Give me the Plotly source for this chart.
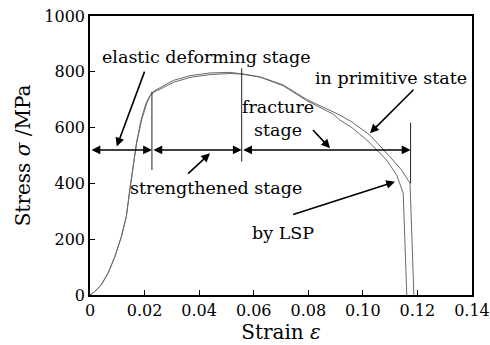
import plotly.graph_objects as go

# ---- data ----
strain_primitive = [0, 0.0017, 0.0041, 0.0066, 0.0091, 0.0115, 0.0133, 0.0147, 0.0171, 0.0189,
                    0.0208, 0.0222, 0.0234, 0.0259, 0.0305, 0.0366, 0.0440, 0.0513, 0.0556,
                    0.0623, 0.0708, 0.0794, 0.0892, 0.0916, 0.0960, 0.1026, 0.1099, 0.1142,
                    0.1173, 0.1185, 0.1187]
stress_primitive = [0, 12, 36, 78, 137, 209, 281, 388, 544, 627,
                    687, 717, 731, 745, 769, 786, 796, 798, 793,
                    782, 753, 701, 654, 645, 620, 573, 496, 448,
                    400, 6, 0]

strain_lsp = [0, 0.0017, 0.0041, 0.0066, 0.0091, 0.0115, 0.0133, 0.0147, 0.0170, 0.0187,
              0.0205, 0.0219, 0.0232, 0.0257, 0.0305, 0.0366, 0.0440, 0.0513, 0.0556,
              0.0623, 0.0708, 0.0794, 0.0892, 0.0916, 0.0960, 0.1014, 0.1087, 0.1124,
              0.1142, 0.1148, 0.1161]
stress_lsp = [0, 12, 36, 78, 137, 209, 281, 388, 544, 627,
              687, 714, 726, 738, 762, 780, 790, 794, 792,
              781, 750, 697, 648, 627, 600, 556, 484, 430,
              382, 365, 0]

x_ticks = [0, 0.02, 0.04, 0.06, 0.08, 0.10, 0.12, 0.14]
x_tick_labels = ["0", "0.02", "0.04", "0.06", "0.08", "0.10", "0.12", "0.14"]
y_ticks = [0, 200, 400, 600, 800, 1000]
y_tick_labels = ["0", "200", "400", "600", "800", "1000"]

# stage boundaries (strain) and marker extents (stress)
stage_bounds = [0, 0.0227, 0.0556, 0.1175]
marker_lows = [448, 478, 400]
marker_highs = [729, 813, 618]
stage_arrow_stress = 520

# labels: text, centre (x, y), arrow tail (x, y), arrow head (x, y)
label_texts = ["elastic deforming stage", "strengthened stage", "fracture<br>stage",
               "in primitive state", "by LSP"]
label_pos = [(0.0426, 853), (0.0462, 383), (0.0689, 634), (0.1102, 777), (0.0708, 221)]
arrow_tail = [(0.0202, 806), (0.0354, 430), (0.0812, 597), (0.1191, 741), (0.0739, 287)]
arrow_head = [(0.0098, 532), (0.0440, 508), (0.0880, 526), (0.1026, 580), (0.1118, 406)]

FONT = "DejaVu Serif, Liberation Serif, serif"
CURVE = "#6a6a6a"

fig = go.Figure()
fig.add_trace(go.Scatter(x=strain_primitive, y=stress_primitive, mode="lines",
                         line=dict(color=CURVE, width=1), showlegend=False))
fig.add_trace(go.Scatter(x=strain_lsp, y=stress_lsp, mode="lines",
                         line=dict(color=CURVE, width=1), showlegend=False))

shapes = []
for xb, lo, hi in zip(stage_bounds[1:], marker_lows, marker_highs):
    shapes.append(dict(type="line", xref="x", yref="y", x0=xb, x1=xb, y0=lo, y1=hi,
                       line=dict(color="#222", width=1)))

annotations = []
# double headed stage arrows
for a, b in zip(stage_bounds[:-1], stage_bounds[1:]):
    annotations.append(dict(x=b, y=stage_arrow_stress, ax=a, ay=stage_arrow_stress,
                            xref="x", yref="y", axref="x", ayref="y", text="",
                            showarrow=True, arrowhead=2, startarrowhead=2, arrowside="end+start",
                            arrowsize=1.1, startarrowsize=1.1, arrowwidth=1.6, arrowcolor="black",
                            standoff=0, startstandoff=0))
for t, p, tail, head in zip(label_texts, label_pos, arrow_tail, arrow_head):
    annotations.append(dict(x=p[0], y=p[1], xref="x", yref="y", text=t, showarrow=False,
                            font=dict(family=FONT, size=17.5, color="black"),
                            xanchor="center", yanchor="middle"))
    annotations.append(dict(x=head[0], y=head[1], ax=tail[0], ay=tail[1],
                            xref="x", yref="y", axref="x", ayref="y", text="",
                            showarrow=True, arrowhead=2, arrowsize=1.1, arrowwidth=1.6,
                            arrowcolor="black", standoff=0))

fig.update_layout(
    width=490, height=345,
    margin=dict(l=90, r=18, t=16, b=50, autoexpand=False),
    paper_bgcolor="white", plot_bgcolor="white",
    font=dict(family=FONT, size=17, color="black"),
    shapes=shapes, annotations=annotations,
    xaxis=dict(range=[0, 0.14001], tickvals=x_ticks, ticktext=x_tick_labels,
               ticks="inside", ticklen=5, tickwidth=1, tickcolor="black",
               showline=True, linecolor="black", linewidth=1.5, mirror=True,
               showgrid=False, zeroline=False, automargin=False,
               tickfont=dict(size=16),
               title=dict(text="Strain <i>ε</i>", standoff=0)),
    yaxis=dict(range=[0, 1000.1], tickvals=y_ticks, ticktext=y_tick_labels,
               ticks="inside", ticklen=5, tickwidth=1, tickcolor="black",
               showline=True, linecolor="black", linewidth=1.5, mirror=True,
               showgrid=False, zeroline=False, automargin=False,
               tickfont=dict(size=16),
               title=dict(text="Stress <i>σ</i> /MPa", standoff=8)),
)

# remove the browser's default page margin so the figure fills the window exactly
fig.write_html("out.html",
               config={"displayModeBar": False},
               post_script="document.body.style.margin='0';document.body.style.overflow='hidden';")
